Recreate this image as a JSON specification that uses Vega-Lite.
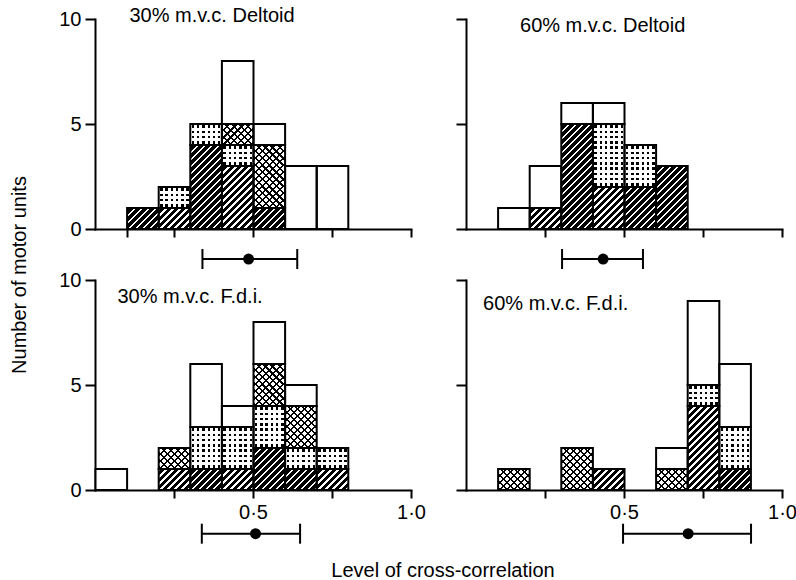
{
  "$schema": "https://vega.github.io/schema/vega-lite/v6.json",
  "background": "white",
  "padding": {"left": 9, "top": 6, "right": 5, "bottom": 0},
  "params": [
    {"name": "hatch", "value": {"gradient": "linear", "x1": 0, "y1": 0, "x2": 1.1546, "y2": 0.7673, "stops": [
      {"offset": 0, "color": "white"}, {"offset": 0.0466, "color": "white"}, {"offset": 0.0466, "color": "black"}, {"offset": 0.1331, "color": "black"},
      {"offset": 0.1331, "color": "white"}, {"offset": 0.1797, "color": "white"}, {"offset": 0.1797, "color": "black"}, {"offset": 0.2662, "color": "black"},
      {"offset": 0.2662, "color": "white"}, {"offset": 0.3127, "color": "white"}, {"offset": 0.3127, "color": "black"}, {"offset": 0.3992, "color": "black"},
      {"offset": 0.3992, "color": "white"}, {"offset": 0.4458, "color": "white"}, {"offset": 0.4458, "color": "black"}, {"offset": 0.5323, "color": "black"},
      {"offset": 0.5323, "color": "white"}, {"offset": 0.5789, "color": "white"}, {"offset": 0.5789, "color": "black"}, {"offset": 0.6654, "color": "black"},
      {"offset": 0.6654, "color": "white"}, {"offset": 0.712, "color": "white"}, {"offset": 0.712, "color": "black"}, {"offset": 0.7985, "color": "black"},
      {"offset": 0.7985, "color": "white"}, {"offset": 0.8451, "color": "white"}, {"offset": 0.8451, "color": "black"}, {"offset": 0.9316, "color": "black"},
      {"offset": 0.9316, "color": "white"}, {"offset": 0.9781, "color": "white"}, {"offset": 0.9781, "color": "black"}, {"offset": 1, "color": "black"}
    ]}},
    {"name": "cross1", "value": {"gradient": "linear", "x1": 0, "y1": 0, "x2": 1.1546, "y2": 0.7673, "stops": [
      {"offset": 0, "color": "black"}, {"offset": 0.0399, "color": "black"}, {"offset": 0.0399, "color": "white"}, {"offset": 0.1331, "color": "white"},
      {"offset": 0.1331, "color": "black"}, {"offset": 0.173, "color": "black"}, {"offset": 0.173, "color": "white"}, {"offset": 0.2662, "color": "white"},
      {"offset": 0.2662, "color": "black"}, {"offset": 0.3061, "color": "black"}, {"offset": 0.3061, "color": "white"}, {"offset": 0.3992, "color": "white"},
      {"offset": 0.3992, "color": "black"}, {"offset": 0.4392, "color": "black"}, {"offset": 0.4392, "color": "white"}, {"offset": 0.5323, "color": "white"},
      {"offset": 0.5323, "color": "black"}, {"offset": 0.5722, "color": "black"}, {"offset": 0.5722, "color": "white"}, {"offset": 0.6654, "color": "white"},
      {"offset": 0.6654, "color": "black"}, {"offset": 0.7053, "color": "black"}, {"offset": 0.7053, "color": "white"}, {"offset": 0.7985, "color": "white"},
      {"offset": 0.7985, "color": "black"}, {"offset": 0.8384, "color": "black"}, {"offset": 0.8384, "color": "white"}, {"offset": 0.9316, "color": "white"},
      {"offset": 0.9316, "color": "black"}, {"offset": 0.9715, "color": "black"}, {"offset": 0.9715, "color": "white"}, {"offset": 1, "color": "white"}
    ]}},
    {"name": "cross2", "value": {"gradient": "linear", "x1": 1, "y1": 0, "x2": -0.1546, "y2": 0.7673, "stops": [
      {"offset": 0, "color": "black"}, {"offset": 0.0399, "color": "black"}, {"offset": 0.0399, "color": "transparent"}, {"offset": 0.1331, "color": "transparent"},
      {"offset": 0.1331, "color": "black"}, {"offset": 0.173, "color": "black"}, {"offset": 0.173, "color": "transparent"}, {"offset": 0.2662, "color": "transparent"},
      {"offset": 0.2662, "color": "black"}, {"offset": 0.3061, "color": "black"}, {"offset": 0.3061, "color": "transparent"}, {"offset": 0.3992, "color": "transparent"},
      {"offset": 0.3992, "color": "black"}, {"offset": 0.4392, "color": "black"}, {"offset": 0.4392, "color": "transparent"}, {"offset": 0.5323, "color": "transparent"},
      {"offset": 0.5323, "color": "black"}, {"offset": 0.5722, "color": "black"}, {"offset": 0.5722, "color": "transparent"}, {"offset": 0.6654, "color": "transparent"},
      {"offset": 0.6654, "color": "black"}, {"offset": 0.7053, "color": "black"}, {"offset": 0.7053, "color": "transparent"}, {"offset": 0.7985, "color": "transparent"},
      {"offset": 0.7985, "color": "black"}, {"offset": 0.8384, "color": "black"}, {"offset": 0.8384, "color": "transparent"}, {"offset": 0.9316, "color": "transparent"},
      {"offset": 0.9316, "color": "black"}, {"offset": 0.9715, "color": "black"}, {"offset": 0.9715, "color": "transparent"}, {"offset": 1, "color": "transparent"}
    ]}},
    {"name": "dotv", "value": {"gradient": "linear", "x1": 0, "y1": 0, "x2": 1, "y2": 0, "stops": [
      {"offset": 0, "color": "white"}, {"offset": 0.0458, "color": "white"}, {"offset": 0.0458, "color": "transparent"}, {"offset": 0.1208, "color": "transparent"},
      {"offset": 0.1208, "color": "white"}, {"offset": 0.2125, "color": "white"}, {"offset": 0.2125, "color": "transparent"}, {"offset": 0.2875, "color": "transparent"},
      {"offset": 0.2875, "color": "white"}, {"offset": 0.3792, "color": "white"}, {"offset": 0.3792, "color": "transparent"}, {"offset": 0.4542, "color": "transparent"},
      {"offset": 0.4542, "color": "white"}, {"offset": 0.5458, "color": "white"}, {"offset": 0.5458, "color": "transparent"}, {"offset": 0.6208, "color": "transparent"},
      {"offset": 0.6208, "color": "white"}, {"offset": 0.7125, "color": "white"}, {"offset": 0.7125, "color": "transparent"}, {"offset": 0.7875, "color": "transparent"},
      {"offset": 0.7875, "color": "white"}, {"offset": 0.8792, "color": "white"}, {"offset": 0.8792, "color": "transparent"}, {"offset": 0.9542, "color": "transparent"},
      {"offset": 0.9542, "color": "white"}, {"offset": 1, "color": "white"}
    ]}},
    {"name": "doth", "value": {"gradient": "linear", "x1": 0, "y1": 0, "x2": 0, "y2": 1, "stops": [
      {"offset": 0, "color": "white"}, {"offset": 0.0688, "color": "white"}, {"offset": 0.0688, "color": "transparent"}, {"offset": 0.1813, "color": "transparent"},
      {"offset": 0.1813, "color": "white"}, {"offset": 0.3188, "color": "white"}, {"offset": 0.3188, "color": "transparent"}, {"offset": 0.4313, "color": "transparent"},
      {"offset": 0.4313, "color": "white"}, {"offset": 0.5688, "color": "white"}, {"offset": 0.5688, "color": "transparent"}, {"offset": 0.6813, "color": "transparent"},
      {"offset": 0.6813, "color": "white"}, {"offset": 0.8188, "color": "white"}, {"offset": 0.8188, "color": "transparent"}, {"offset": 0.9313, "color": "transparent"},
      {"offset": 0.9313, "color": "white"}, {"offset": 1, "color": "white"}
    ]}}
  ],
  "datasets": {
    "units": [
      {"p": "30% m.v.c. Deltoid", "b": 0.1, "t": "diagonal", "u": 1},
      {"p": "30% m.v.c. Deltoid", "b": 0.2, "t": "diagonal", "u": 1},
      {"p": "30% m.v.c. Deltoid", "b": 0.2, "t": "dotted", "u": 1},
      {"p": "30% m.v.c. Deltoid", "b": 0.3, "t": "diagonal", "u": 1},
      {"p": "30% m.v.c. Deltoid", "b": 0.3, "t": "diagonal", "u": 2},
      {"p": "30% m.v.c. Deltoid", "b": 0.3, "t": "diagonal", "u": 3},
      {"p": "30% m.v.c. Deltoid", "b": 0.3, "t": "diagonal", "u": 4},
      {"p": "30% m.v.c. Deltoid", "b": 0.3, "t": "dotted", "u": 1},
      {"p": "30% m.v.c. Deltoid", "b": 0.4, "t": "diagonal", "u": 1},
      {"p": "30% m.v.c. Deltoid", "b": 0.4, "t": "diagonal", "u": 2},
      {"p": "30% m.v.c. Deltoid", "b": 0.4, "t": "diagonal", "u": 3},
      {"p": "30% m.v.c. Deltoid", "b": 0.4, "t": "dotted", "u": 1},
      {"p": "30% m.v.c. Deltoid", "b": 0.4, "t": "lattice", "u": 1},
      {"p": "30% m.v.c. Deltoid", "b": 0.4, "t": "plain", "u": 1},
      {"p": "30% m.v.c. Deltoid", "b": 0.4, "t": "plain", "u": 2},
      {"p": "30% m.v.c. Deltoid", "b": 0.4, "t": "plain", "u": 3},
      {"p": "30% m.v.c. Deltoid", "b": 0.5, "t": "diagonal", "u": 1},
      {"p": "30% m.v.c. Deltoid", "b": 0.5, "t": "lattice", "u": 1},
      {"p": "30% m.v.c. Deltoid", "b": 0.5, "t": "lattice", "u": 2},
      {"p": "30% m.v.c. Deltoid", "b": 0.5, "t": "lattice", "u": 3},
      {"p": "30% m.v.c. Deltoid", "b": 0.5, "t": "plain", "u": 1},
      {"p": "30% m.v.c. Deltoid", "b": 0.6, "t": "plain", "u": 1},
      {"p": "30% m.v.c. Deltoid", "b": 0.6, "t": "plain", "u": 2},
      {"p": "30% m.v.c. Deltoid", "b": 0.6, "t": "plain", "u": 3},
      {"p": "30% m.v.c. Deltoid", "b": 0.7, "t": "plain", "u": 1},
      {"p": "30% m.v.c. Deltoid", "b": 0.7, "t": "plain", "u": 2},
      {"p": "30% m.v.c. Deltoid", "b": 0.7, "t": "plain", "u": 3},

      {"p": "60% m.v.c. Deltoid", "b": 0.1, "t": "plain", "u": 1},
      {"p": "60% m.v.c. Deltoid", "b": 0.2, "t": "diagonal", "u": 1},
      {"p": "60% m.v.c. Deltoid", "b": 0.2, "t": "plain", "u": 1},
      {"p": "60% m.v.c. Deltoid", "b": 0.2, "t": "plain", "u": 2},
      {"p": "60% m.v.c. Deltoid", "b": 0.3, "t": "diagonal", "u": 1},
      {"p": "60% m.v.c. Deltoid", "b": 0.3, "t": "diagonal", "u": 2},
      {"p": "60% m.v.c. Deltoid", "b": 0.3, "t": "diagonal", "u": 3},
      {"p": "60% m.v.c. Deltoid", "b": 0.3, "t": "diagonal", "u": 4},
      {"p": "60% m.v.c. Deltoid", "b": 0.3, "t": "diagonal", "u": 5},
      {"p": "60% m.v.c. Deltoid", "b": 0.3, "t": "plain", "u": 1},
      {"p": "60% m.v.c. Deltoid", "b": 0.4, "t": "diagonal", "u": 1},
      {"p": "60% m.v.c. Deltoid", "b": 0.4, "t": "diagonal", "u": 2},
      {"p": "60% m.v.c. Deltoid", "b": 0.4, "t": "dotted", "u": 1},
      {"p": "60% m.v.c. Deltoid", "b": 0.4, "t": "dotted", "u": 2},
      {"p": "60% m.v.c. Deltoid", "b": 0.4, "t": "dotted", "u": 3},
      {"p": "60% m.v.c. Deltoid", "b": 0.4, "t": "plain", "u": 1},
      {"p": "60% m.v.c. Deltoid", "b": 0.5, "t": "diagonal", "u": 1},
      {"p": "60% m.v.c. Deltoid", "b": 0.5, "t": "diagonal", "u": 2},
      {"p": "60% m.v.c. Deltoid", "b": 0.5, "t": "dotted", "u": 1},
      {"p": "60% m.v.c. Deltoid", "b": 0.5, "t": "dotted", "u": 2},
      {"p": "60% m.v.c. Deltoid", "b": 0.6, "t": "diagonal", "u": 1},
      {"p": "60% m.v.c. Deltoid", "b": 0.6, "t": "diagonal", "u": 2},
      {"p": "60% m.v.c. Deltoid", "b": 0.6, "t": "diagonal", "u": 3},

      {"p": "30% m.v.c. F.d.i.", "b": 0.0, "t": "plain", "u": 1},
      {"p": "30% m.v.c. F.d.i.", "b": 0.2, "t": "diagonal", "u": 1},
      {"p": "30% m.v.c. F.d.i.", "b": 0.2, "t": "lattice", "u": 1},
      {"p": "30% m.v.c. F.d.i.", "b": 0.3, "t": "diagonal", "u": 1},
      {"p": "30% m.v.c. F.d.i.", "b": 0.3, "t": "dotted", "u": 1},
      {"p": "30% m.v.c. F.d.i.", "b": 0.3, "t": "dotted", "u": 2},
      {"p": "30% m.v.c. F.d.i.", "b": 0.3, "t": "plain", "u": 1},
      {"p": "30% m.v.c. F.d.i.", "b": 0.3, "t": "plain", "u": 2},
      {"p": "30% m.v.c. F.d.i.", "b": 0.3, "t": "plain", "u": 3},
      {"p": "30% m.v.c. F.d.i.", "b": 0.4, "t": "diagonal", "u": 1},
      {"p": "30% m.v.c. F.d.i.", "b": 0.4, "t": "dotted", "u": 1},
      {"p": "30% m.v.c. F.d.i.", "b": 0.4, "t": "dotted", "u": 2},
      {"p": "30% m.v.c. F.d.i.", "b": 0.4, "t": "plain", "u": 1},
      {"p": "30% m.v.c. F.d.i.", "b": 0.5, "t": "diagonal", "u": 1},
      {"p": "30% m.v.c. F.d.i.", "b": 0.5, "t": "diagonal", "u": 2},
      {"p": "30% m.v.c. F.d.i.", "b": 0.5, "t": "dotted", "u": 1},
      {"p": "30% m.v.c. F.d.i.", "b": 0.5, "t": "dotted", "u": 2},
      {"p": "30% m.v.c. F.d.i.", "b": 0.5, "t": "lattice", "u": 1},
      {"p": "30% m.v.c. F.d.i.", "b": 0.5, "t": "lattice", "u": 2},
      {"p": "30% m.v.c. F.d.i.", "b": 0.5, "t": "plain", "u": 1},
      {"p": "30% m.v.c. F.d.i.", "b": 0.5, "t": "plain", "u": 2},
      {"p": "30% m.v.c. F.d.i.", "b": 0.6, "t": "diagonal", "u": 1},
      {"p": "30% m.v.c. F.d.i.", "b": 0.6, "t": "dotted", "u": 1},
      {"p": "30% m.v.c. F.d.i.", "b": 0.6, "t": "lattice", "u": 1},
      {"p": "30% m.v.c. F.d.i.", "b": 0.6, "t": "lattice", "u": 2},
      {"p": "30% m.v.c. F.d.i.", "b": 0.6, "t": "plain", "u": 1},
      {"p": "30% m.v.c. F.d.i.", "b": 0.7, "t": "diagonal", "u": 1},
      {"p": "30% m.v.c. F.d.i.", "b": 0.7, "t": "dotted", "u": 1},

      {"p": "60% m.v.c. F.d.i.", "b": 0.1, "t": "lattice", "u": 1},
      {"p": "60% m.v.c. F.d.i.", "b": 0.3, "t": "lattice", "u": 1},
      {"p": "60% m.v.c. F.d.i.", "b": 0.3, "t": "lattice", "u": 2},
      {"p": "60% m.v.c. F.d.i.", "b": 0.4, "t": "diagonal", "u": 1},
      {"p": "60% m.v.c. F.d.i.", "b": 0.6, "t": "lattice", "u": 1},
      {"p": "60% m.v.c. F.d.i.", "b": 0.6, "t": "plain", "u": 1},
      {"p": "60% m.v.c. F.d.i.", "b": 0.7, "t": "diagonal", "u": 1},
      {"p": "60% m.v.c. F.d.i.", "b": 0.7, "t": "diagonal", "u": 2},
      {"p": "60% m.v.c. F.d.i.", "b": 0.7, "t": "diagonal", "u": 3},
      {"p": "60% m.v.c. F.d.i.", "b": 0.7, "t": "diagonal", "u": 4},
      {"p": "60% m.v.c. F.d.i.", "b": 0.7, "t": "dotted", "u": 1},
      {"p": "60% m.v.c. F.d.i.", "b": 0.7, "t": "plain", "u": 1},
      {"p": "60% m.v.c. F.d.i.", "b": 0.7, "t": "plain", "u": 2},
      {"p": "60% m.v.c. F.d.i.", "b": 0.7, "t": "plain", "u": 3},
      {"p": "60% m.v.c. F.d.i.", "b": 0.7, "t": "plain", "u": 4},
      {"p": "60% m.v.c. F.d.i.", "b": 0.8, "t": "diagonal", "u": 1},
      {"p": "60% m.v.c. F.d.i.", "b": 0.8, "t": "dotted", "u": 1},
      {"p": "60% m.v.c. F.d.i.", "b": 0.8, "t": "dotted", "u": 2},
      {"p": "60% m.v.c. F.d.i.", "b": 0.8, "t": "plain", "u": 1},
      {"p": "60% m.v.c. F.d.i.", "b": 0.8, "t": "plain", "u": 2},
      {"p": "60% m.v.c. F.d.i.", "b": 0.8, "t": "plain", "u": 3}
    ],
    "summary": [
      {"p": "30% m.v.c. Deltoid", "m": 0.486, "lo": 0.34, "hi": 0.64},
      {"p": "60% m.v.c. Deltoid", "m": 0.434, "lo": 0.304, "hi": 0.56},
      {"p": "30% m.v.c. F.d.i.", "m": 0.508, "lo": 0.338, "hi": 0.649},
      {"p": "60% m.v.c. F.d.i.", "m": 0.703, "lo": 0.497, "hi": 0.902}
    ]
  },
  "config": {
    "view": {"stroke": null},
    "font": "Liberation Sans",
    "axis": {"grid": false, "domainColor": "black", "domainWidth": 2, "domainCap": "square", "tickColor": "black", "tickWidth": 2, "labelColor": "black", "labelFont": "Liberation Sans", "labelFontSize": 20, "titleFont": "Liberation Sans", "titleFontSize": 20, "titleFontWeight": "normal", "titleColor": "black", "labelFlush": false, "labelOverlap": false, "labelPadding": 4},
    "axisX": {"tickSize": 8},
    "axisY": {"tickSize": 10}
  },
  "bounds": "flush",
  "spacing": {"row": 51, "column": 55},
  "columns": 2,
  "concat": [
    {
      "width": 316, "height": 210,
      "layer": [
        {
          "data": {"name": "units"},
          "transform": [{"filter": "datum.p === '30% m.v.c. Deltoid'"}],
          "encoding": {
            "x": {"field": "b", "type": "quantitative", "bin": {"binned": true, "step": 0.1}, "scale": {"domain": [0, 1], "nice": false, "zero": false}, "axis": {"values": [0.1, 0.25, 0.5, 0.75, 1], "labels": false, "title": null}},
            "y": {"aggregate": "count", "type": "quantitative", "scale": {"domain": [0, 10], "nice": false}, "axis": {"values": [0, 5, 10], "title": "Number of motor units", "titleX": -70, "titleY": 255.5, "titleAngle": -90, "titleAlign": "center", "titleBaseline": "alphabetic"}},
            "order": {"field": "t"}
          },
          "layer": [
            {"mark": {"type": "bar", "binSpacing": 0, "opacity": 1}, "encoding": {"detail": [{"field": "t"}, {"field": "u"}], "fill": {"condition": [{"test": "datum.t === 'diagonal'", "value": {"expr": "hatch"}}, {"test": "datum.t === 'lattice'", "value": {"expr": "cross1"}}, {"test": "datum.t === 'dotted'", "value": "black"}], "value": "white"}}},
            {"mark": {"type": "bar", "binSpacing": 0, "opacity": 1}, "encoding": {"detail": [{"field": "t"}, {"field": "u"}], "fill": {"condition": [{"test": "datum.t === 'lattice'", "value": {"expr": "cross2"}}, {"test": "datum.t === 'dotted'", "value": {"expr": "dotv"}}], "value": "transparent"}}},
            {"mark": {"type": "bar", "binSpacing": 0, "opacity": 1}, "encoding": {"detail": [{"field": "t"}, {"field": "u"}], "fill": {"condition": [{"test": "datum.t === 'dotted'", "value": {"expr": "doth"}}], "value": "transparent"}}},
            {"mark": {"type": "bar", "binSpacing": 0, "opacity": 1, "fill": "transparent", "stroke": "black", "strokeWidth": 2}, "encoding": {"detail": {"field": "t"}}}
          ]
        },
        {
          "data": {"name": "summary"},
          "transform": [{"filter": "datum.p === '30% m.v.c. Deltoid'"}],
          "layer": [
            {"mark": {"type": "rule", "color": "black", "strokeWidth": 2}, "encoding": {"x": {"field": "lo", "type": "quantitative"}, "x2": {"field": "hi"}, "y": {"datum": -1.43}}},
            {"mark": {"type": "tick", "orient": "vertical", "size": 20, "thickness": 2, "color": "black", "opacity": 1}, "encoding": {"x": {"field": "lo", "type": "quantitative"}, "y": {"datum": -1.43}}},
            {"mark": {"type": "tick", "orient": "vertical", "size": 20, "thickness": 2, "color": "black", "opacity": 1}, "encoding": {"x": {"field": "hi", "type": "quantitative"}, "y": {"datum": -1.43}}},
            {"mark": {"type": "point", "filled": true, "size": 120, "color": "black", "opacity": 1}, "encoding": {"x": {"field": "m", "type": "quantitative"}, "y": {"datum": -1.43}}},
            {"mark": {"type": "text", "align": "left", "baseline": "middle", "fontSize": 20, "font": "Liberation Sans", "color": "black"}, "encoding": {"text": {"field": "p"}, "x": {"datum": 0.109}, "y": {"datum": 10.12}}}
          ]
        }
      ]
    },
    {
      "width": 316, "height": 210,
      "layer": [
        {
          "data": {"name": "units"},
          "transform": [{"filter": "datum.p === '60% m.v.c. Deltoid'"}],
          "encoding": {
            "x": {"field": "b", "type": "quantitative", "bin": {"binned": true, "step": 0.1}, "scale": {"domain": [0, 1], "nice": false, "zero": false}, "axis": {"values": [0.25, 0.5, 0.75, 1], "labels": false, "title": null}},
            "y": {"aggregate": "count", "type": "quantitative", "scale": {"domain": [0, 10], "nice": false}, "axis": {"values": [0, 5, 10], "labels": false, "title": null}},
            "order": {"field": "t"}
          },
          "layer": [
            {"mark": {"type": "bar", "binSpacing": 0, "opacity": 1}, "encoding": {"detail": [{"field": "t"}, {"field": "u"}], "fill": {"condition": [{"test": "datum.t === 'diagonal'", "value": {"expr": "hatch"}}, {"test": "datum.t === 'lattice'", "value": {"expr": "cross1"}}, {"test": "datum.t === 'dotted'", "value": "black"}], "value": "white"}}},
            {"mark": {"type": "bar", "binSpacing": 0, "opacity": 1}, "encoding": {"detail": [{"field": "t"}, {"field": "u"}], "fill": {"condition": [{"test": "datum.t === 'lattice'", "value": {"expr": "cross2"}}, {"test": "datum.t === 'dotted'", "value": {"expr": "dotv"}}], "value": "transparent"}}},
            {"mark": {"type": "bar", "binSpacing": 0, "opacity": 1}, "encoding": {"detail": [{"field": "t"}, {"field": "u"}], "fill": {"condition": [{"test": "datum.t === 'dotted'", "value": {"expr": "doth"}}], "value": "transparent"}}},
            {"mark": {"type": "bar", "binSpacing": 0, "opacity": 1, "fill": "transparent", "stroke": "black", "strokeWidth": 2}, "encoding": {"detail": {"field": "t"}}}
          ]
        },
        {
          "data": {"name": "summary"},
          "transform": [{"filter": "datum.p === '60% m.v.c. Deltoid'"}],
          "layer": [
            {"mark": {"type": "rule", "color": "black", "strokeWidth": 2}, "encoding": {"x": {"field": "lo", "type": "quantitative"}, "x2": {"field": "hi"}, "y": {"datum": -1.43}}},
            {"mark": {"type": "tick", "orient": "vertical", "size": 20, "thickness": 2, "color": "black", "opacity": 1}, "encoding": {"x": {"field": "lo", "type": "quantitative"}, "y": {"datum": -1.43}}},
            {"mark": {"type": "tick", "orient": "vertical", "size": 20, "thickness": 2, "color": "black", "opacity": 1}, "encoding": {"x": {"field": "hi", "type": "quantitative"}, "y": {"datum": -1.43}}},
            {"mark": {"type": "point", "filled": true, "size": 120, "color": "black", "opacity": 1}, "encoding": {"x": {"field": "m", "type": "quantitative"}, "y": {"datum": -1.43}}},
            {"mark": {"type": "text", "align": "left", "baseline": "middle", "fontSize": 20, "font": "Liberation Sans", "color": "black"}, "encoding": {"text": {"field": "p"}, "x": {"datum": 0.171}, "y": {"datum": 9.69}}}
          ]
        }
      ]
    },
    {
      "width": 316, "height": 210,
      "layer": [
        {
          "data": {"name": "units"},
          "transform": [{"filter": "datum.p === '30% m.v.c. F.d.i.'"}],
          "encoding": {
            "x": {"field": "b", "type": "quantitative", "bin": {"binned": true, "step": 0.1}, "scale": {"domain": [0, 1], "nice": false, "zero": false}, "axis": {"values": [0.25, 0.5, 0.75, 1], "labelExpr": "datum.value === 0.5 ? '0·5' : datum.value === 1 ? '1·0' : ''", "title": "Level of cross-correlation", "titleX": 347.5, "titleY": 86, "titleAlign": "center", "titleBaseline": "alphabetic"}},
            "y": {"aggregate": "count", "type": "quantitative", "scale": {"domain": [0, 10], "nice": false}, "axis": {"values": [0, 5, 10], "title": null}},
            "order": {"field": "t"}
          },
          "layer": [
            {"mark": {"type": "bar", "binSpacing": 0, "opacity": 1}, "encoding": {"detail": [{"field": "t"}, {"field": "u"}], "fill": {"condition": [{"test": "datum.t === 'diagonal'", "value": {"expr": "hatch"}}, {"test": "datum.t === 'lattice'", "value": {"expr": "cross1"}}, {"test": "datum.t === 'dotted'", "value": "black"}], "value": "white"}}},
            {"mark": {"type": "bar", "binSpacing": 0, "opacity": 1}, "encoding": {"detail": [{"field": "t"}, {"field": "u"}], "fill": {"condition": [{"test": "datum.t === 'lattice'", "value": {"expr": "cross2"}}, {"test": "datum.t === 'dotted'", "value": {"expr": "dotv"}}], "value": "transparent"}}},
            {"mark": {"type": "bar", "binSpacing": 0, "opacity": 1}, "encoding": {"detail": [{"field": "t"}, {"field": "u"}], "fill": {"condition": [{"test": "datum.t === 'dotted'", "value": {"expr": "doth"}}], "value": "transparent"}}},
            {"mark": {"type": "bar", "binSpacing": 0, "opacity": 1, "fill": "transparent", "stroke": "black", "strokeWidth": 2}, "encoding": {"detail": {"field": "t"}}}
          ]
        },
        {
          "data": {"name": "summary"},
          "transform": [{"filter": "datum.p === '30% m.v.c. F.d.i.'"}],
          "layer": [
            {"mark": {"type": "rule", "color": "black", "strokeWidth": 2}, "encoding": {"x": {"field": "lo", "type": "quantitative"}, "x2": {"field": "hi"}, "y": {"datum": -2.08}}},
            {"mark": {"type": "tick", "orient": "vertical", "size": 20, "thickness": 2, "color": "black", "opacity": 1}, "encoding": {"x": {"field": "lo", "type": "quantitative"}, "y": {"datum": -2.08}}},
            {"mark": {"type": "tick", "orient": "vertical", "size": 20, "thickness": 2, "color": "black", "opacity": 1}, "encoding": {"x": {"field": "hi", "type": "quantitative"}, "y": {"datum": -2.08}}},
            {"mark": {"type": "point", "filled": true, "size": 120, "color": "black", "opacity": 1}, "encoding": {"x": {"field": "m", "type": "quantitative"}, "y": {"datum": -2.08}}},
            {"mark": {"type": "text", "align": "left", "baseline": "middle", "fontSize": 20, "font": "Liberation Sans", "color": "black"}, "encoding": {"text": {"field": "p"}, "x": {"datum": 0.071}, "y": {"datum": 9.21}}}
          ]
        }
      ]
    },
    {
      "width": 316, "height": 210,
      "layer": [
        {
          "data": {"name": "units"},
          "transform": [{"filter": "datum.p === '60% m.v.c. F.d.i.'"}],
          "encoding": {
            "x": {"field": "b", "type": "quantitative", "bin": {"binned": true, "step": 0.1}, "scale": {"domain": [0, 1], "nice": false, "zero": false}, "axis": {"values": [0.25, 0.5, 0.75, 1], "labelExpr": "datum.value === 0.5 ? '0·5' : datum.value === 1 ? '1·0' : ''", "title": null}},
            "y": {"aggregate": "count", "type": "quantitative", "scale": {"domain": [0, 10], "nice": false}, "axis": {"values": [0, 5, 10], "labels": false, "title": null}},
            "order": {"field": "t"}
          },
          "layer": [
            {"mark": {"type": "bar", "binSpacing": 0, "opacity": 1}, "encoding": {"detail": [{"field": "t"}, {"field": "u"}], "fill": {"condition": [{"test": "datum.t === 'diagonal'", "value": {"expr": "hatch"}}, {"test": "datum.t === 'lattice'", "value": {"expr": "cross1"}}, {"test": "datum.t === 'dotted'", "value": "black"}], "value": "white"}}},
            {"mark": {"type": "bar", "binSpacing": 0, "opacity": 1}, "encoding": {"detail": [{"field": "t"}, {"field": "u"}], "fill": {"condition": [{"test": "datum.t === 'lattice'", "value": {"expr": "cross2"}}, {"test": "datum.t === 'dotted'", "value": {"expr": "dotv"}}], "value": "transparent"}}},
            {"mark": {"type": "bar", "binSpacing": 0, "opacity": 1}, "encoding": {"detail": [{"field": "t"}, {"field": "u"}], "fill": {"condition": [{"test": "datum.t === 'dotted'", "value": {"expr": "doth"}}], "value": "transparent"}}},
            {"mark": {"type": "bar", "binSpacing": 0, "opacity": 1, "fill": "transparent", "stroke": "black", "strokeWidth": 2}, "encoding": {"detail": {"field": "t"}}}
          ]
        },
        {
          "data": {"name": "summary"},
          "transform": [{"filter": "datum.p === '60% m.v.c. F.d.i.'"}],
          "layer": [
            {"mark": {"type": "rule", "color": "black", "strokeWidth": 2}, "encoding": {"x": {"field": "lo", "type": "quantitative"}, "x2": {"field": "hi"}, "y": {"datum": -2.08}}},
            {"mark": {"type": "tick", "orient": "vertical", "size": 20, "thickness": 2, "color": "black", "opacity": 1}, "encoding": {"x": {"field": "lo", "type": "quantitative"}, "y": {"datum": -2.08}}},
            {"mark": {"type": "tick", "orient": "vertical", "size": 20, "thickness": 2, "color": "black", "opacity": 1}, "encoding": {"x": {"field": "hi", "type": "quantitative"}, "y": {"datum": -2.08}}},
            {"mark": {"type": "point", "filled": true, "size": 120, "color": "black", "opacity": 1}, "encoding": {"x": {"field": "m", "type": "quantitative"}, "y": {"datum": -2.08}}},
            {"mark": {"type": "text", "align": "left", "baseline": "middle", "fontSize": 20, "font": "Liberation Sans", "color": "black"}, "encoding": {"text": {"field": "p"}, "x": {"datum": 0.054}, "y": {"datum": 8.88}}}
          ]
        }
      ]
    }
  ]
}
